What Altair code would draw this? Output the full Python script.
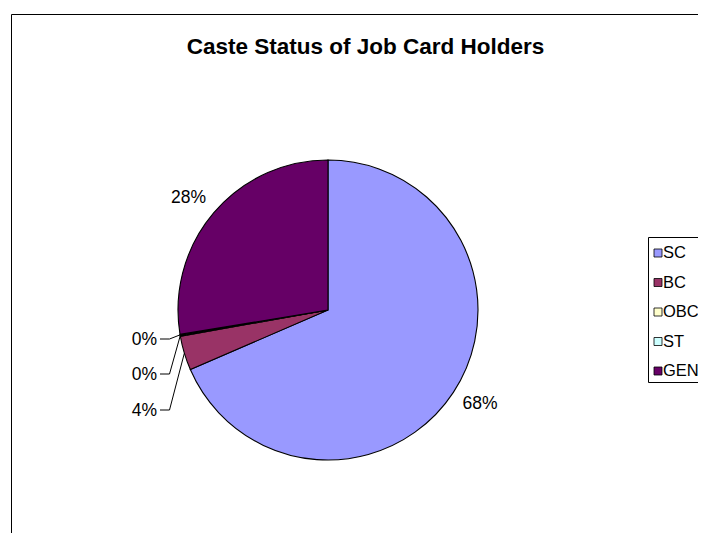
import altair as alt
import pandas as pd
import numpy as np

categories = ["SC", "BC", "OBC", "ST", "GEN"]
values = [68.5, 3.7, 0.1, 0.1, 27.6]
pct_labels = ["68%", "4%", "0%", "0%", "28%"]
colors = ["#9999FF", "#993366", "#FFFFCC", "#CCFFFF", "#660066"]
title_text = "Caste Status of Job Card Holders"

FONT = "Liberation Sans"
W, H = 690, 525
CX, CY, R = 320, 302, 150
LABEL_R = 179

df = pd.DataFrame({"category": categories, "value": values,
                   "idx": list(range(len(categories))), "label": pct_labels})
vals = np.array(values, dtype=float)
mid = (np.cumsum(vals) - vals / 2) / vals.sum() * 2 * np.pi
df["ex"] = CX + R * np.sin(mid)
df["ey"] = CY - R * np.cos(mid)

# label layout: big slices outside at LABEL_R, small slices stacked on the left
LABEL_ROT = np.deg2rad(-1.5)
small_slots = {"ST": 332, "OBC": 367, "BC": 403}
lx, ly, align = [], [], []
for i, c in enumerate(categories):
    if c in small_slots:
        lx.append(149.0)
        ly.append(float(small_slots[c]))
        align.append("right")
    else:
        a = mid[i] + LABEL_ROT
        lx.append(CX + LABEL_R * np.sin(a))
        ly.append(CY - LABEL_R * np.cos(a))
        align.append("center")
df["lx"] = lx
df["ly"] = ly
df["align"] = align

# leader lines
lead_rows = []
for i, c in enumerate(categories):
    if c in small_slots:
        y0 = small_slots[c] - 1
        lead_rows += [
            {"category": c, "k": 0, "x": 152.0, "y": y0},
            {"category": c, "k": 1, "x": 161.5, "y": y0},
            {"category": c, "k": 2, "x": df.loc[i, "ex"], "y": df.loc[i, "ey"]},
        ]
lead = pd.DataFrame(lead_rows)

legend_df = pd.DataFrame({"category": categories, "idx": list(range(len(categories)))})
legend_df["sy"] = 245 + 29.5 * legend_df["idx"]

color_enc = alt.Color("category:N", scale=alt.Scale(domain=categories, range=colors), legend=None)

frame = alt.Chart(pd.DataFrame({"a": [0]})).mark_rect(
    fill="white", stroke="black", strokeWidth=1
).encode(x=alt.value(3.5), y=alt.value(6.5), x2=alt.value(1000), y2=alt.value(1000))

title = alt.Chart(pd.DataFrame({"t": [title_text]})).mark_text(
    font=FONT, fontSize=22.5, fontWeight="bold", align="center", baseline="alphabetic", color="black"
).encode(x=alt.value(357.5), y=alt.value(45.5), text="t:N")

pie = alt.Chart(df).mark_arc(radius=R, stroke="black", strokeWidth=1.1).encode(
    theta=alt.Theta("value:Q", stack=True),
    color=color_enc,
    order=alt.Order("idx:Q"),
    x=alt.value(CX), y=alt.value(CY),
)

leaders = alt.Chart(lead).mark_line(color="black", strokeWidth=1).encode(
    x=alt.X("x:Q", scale=None, axis=None),
    y=alt.Y("y:Q", scale=None, axis=None),
    detail="category:N",
    order="k:Q",
)

labels_center = alt.Chart(df[df["align"] == "center"]).mark_text(
    font=FONT, fontSize=17.5, align="center", baseline="middle", color="black"
).encode(x=alt.X("lx:Q", scale=None, axis=None), y=alt.Y("ly:Q", scale=None, axis=None), text="label:N")

labels_right = alt.Chart(df[df["align"] == "right"]).mark_text(
    font=FONT, fontSize=17.5, align="right", baseline="middle", color="black"
).encode(x=alt.X("lx:Q", scale=None, axis=None), y=alt.Y("ly:Q", scale=None, axis=None), text="label:N")

legend_box = alt.Chart(pd.DataFrame({"a": [0]})).mark_rect(
    fill="white", stroke="black", strokeWidth=1
).encode(x=alt.value(640.5), y=alt.value(229.5), x2=alt.value(1000), y2=alt.value(374.5))

legend_sq = alt.Chart(legend_df).mark_square(size=64, stroke="black", strokeWidth=0.8, opacity=1).encode(
    x=alt.value(650), y=alt.Y("sy:Q", scale=None, axis=None), color=color_enc
)

legend_txt = alt.Chart(legend_df).mark_text(
    font=FONT, fontSize=16.5, align="left", baseline="middle", color="black"
).encode(x=alt.value(655), y=alt.Y("sy:Q", scale=None, axis=None), text="category:N")

chart = alt.layer(
    frame, title, pie, leaders, labels_center, labels_right, legend_box, legend_sq, legend_txt
).properties(
    width=W, height=H, autosize=alt.AutoSizeParams(type="none"), padding=0
).configure_view(stroke=None)

chart.save("out.html", embed_options={"renderer": "svg", "actions": False})
